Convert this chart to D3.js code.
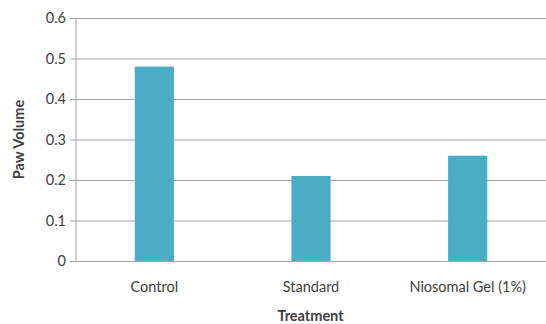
<!DOCTYPE html>
<html>
<head>
<meta charset="utf-8">
<script src="https://cdn.jsdelivr.net/npm/d3@7"></script>
<style>
  html, body { margin: 0; padding: 0; background: #fff; }
  svg { display: block; }
  text { font-family: Lato, "Open Sans", sans-serif; fill: #404040; }
</style>
</head>
<body>
<svg id="chart" width="546" height="324"></svg>
<script>
// Paw volume by treatment group
const categories = ["Control", "Standard", "Niosomal Gel (1%)"];
const pawVolume = [0.48, 0.21, 0.26];
const yTicks = [0, 0.1, 0.2, 0.3, 0.4, 0.5, 0.6];

const width = 546, height = 324;
const margin = { top: 18, right: 0, bottom: 63, left: 76 };
const innerW = width - margin.left - margin.right;
const innerH = height - margin.top - margin.bottom;

const svg = d3.select("#chart");
const g = svg.append("g").attr("transform", `translate(${margin.left},${margin.top})`);

const x = d3.scaleBand()
  .domain(categories)
  .range([0, innerW])
  .paddingInner(0.75)
  .paddingOuter(0.375);

const y = d3.scaleLinear().domain([0, 0.6]).range([innerH, 0]);

// Horizontal gridlines with short ticks on the left
const yAxis = d3.axisLeft(y)
  .tickValues(yTicks)
  .tickSize(-innerW)
  .tickFormat(d => d === 0 ? "0" : d3.format(".1f")(d))
  .tickPadding(10);

const ya = g.append("g").call(yAxis);
ya.select(".domain").remove();
ya.selectAll(".tick line").attr("stroke", "#a3a3a3").attr("x1", -6).attr("stroke-width", 1);
ya.selectAll(".tick text").attr("font-size", 14.5).style("fill", "#404040");

// Vertical axis line
g.append("line")
  .attr("x1", 0).attr("x2", 0)
  .attr("y1", 0).attr("y2", innerH)
  .attr("stroke", "#a3a3a3");

// Bars
g.selectAll("rect.bar")
  .data(categories.map((c, i) => ({ c, v: pawVolume[i] })))
  .join("rect")
  .attr("class", "bar")
  .attr("x", d => x(d.c))
  .attr("width", x.bandwidth())
  .attr("y", d => y(d.v))
  .attr("height", d => innerH - y(d.v))
  .attr("fill", "#4bacc6");

// Category labels
const xAxis = d3.axisBottom(x).tickSize(0).tickPadding(21);
const xa = g.append("g").attr("transform", `translate(0,${innerH})`).call(xAxis);
xa.select(".domain").remove();
xa.selectAll(".tick text").attr("font-size", 14.5).style("fill", "#404040");

// Axis titles
svg.append("text")
  .attr("x", margin.left + innerW / 2 - 0.5)
  .attr("y", 320.5)
  .attr("text-anchor", "middle")
  .attr("font-size", 14.5)
  .attr("font-weight", "bold")
  .text("Treatment");

svg.append("text")
  .attr("transform", `translate(24,${margin.top + innerH / 2}) rotate(-90)`)
  .attr("text-anchor", "middle")
  .attr("font-size", 14.5)
  .attr("font-weight", "bold")
  .text("Paw Volume");
</script>
</body>
</html>
